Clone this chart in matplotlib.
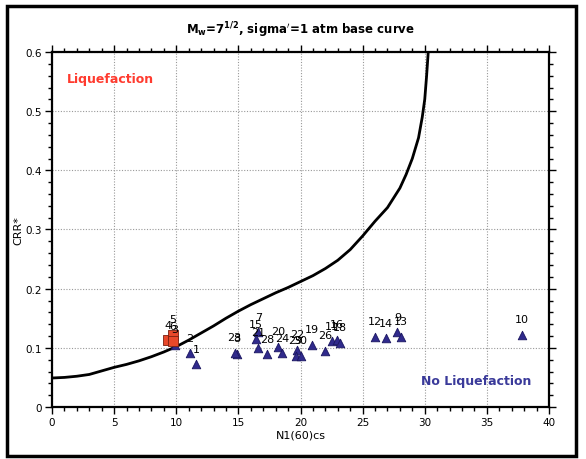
import matplotlib
matplotlib.use("Agg")
import matplotlib.pyplot as plt
from matplotlib.patches import Rectangle
from matplotlib.ticker import MultipleLocator, FuncFormatter

# Base curve
curve_n = [0, 1, 2, 3, 4, 5, 6, 7, 8, 9, 10, 11, 12, 13, 14, 15, 16, 17, 18, 19,
           20, 21, 22, 23, 24, 25, 26, 27, 28, 28.5, 29, 29.5, 29.8, 30.0, 30.15, 30.28]
curve_crr = [0.049, 0.050, 0.052, 0.055, 0.061, 0.067, 0.072, 0.078, 0.085, 0.093,
             0.102, 0.113, 0.125, 0.137, 0.150, 0.162, 0.173, 0.183, 0.193, 0.202,
             0.212, 0.222, 0.234, 0.248, 0.266, 0.289, 0.314, 0.337, 0.370, 0.393,
             0.420, 0.455, 0.490, 0.520, 0.560, 0.600]

# Triangle points
tri_labels = ["1", "2", "3", "8", "23", "7", "15", "21", "28", "20", "24", "22", "29",
              "30", "19", "26", "11", "16", "18", "12", "14", "9", "13", "10"]
tri_n = [11.6, 11.1, 9.9, 14.9, 14.7, 16.6, 16.4, 16.6, 17.3, 18.2, 18.5, 19.7, 19.6,
         20.0, 20.9, 22.0, 22.5, 22.9, 23.2, 26.0, 26.9, 27.8, 28.1, 37.8]
tri_crr = [0.072, 0.091, 0.105, 0.090, 0.092, 0.126, 0.115, 0.100, 0.089, 0.102, 0.091,
           0.097, 0.087, 0.087, 0.105, 0.095, 0.111, 0.114, 0.109, 0.119, 0.116, 0.126,
           0.119, 0.122]

# Square points
sq_labels = ["4", "5", "6"]
sq_n = [9.3, 9.7, 9.7]
sq_crr = [0.113, 0.122, 0.111]

fig = plt.figure(figsize=(5.86, 4.60), dpi=100)
ax = fig.add_axes([52/586, 1 - 408/460, (549-52)/586, (408-53)/460])

ax.plot(curve_n, curve_crr, color="black", lw=2.0, zorder=3, clip_on=True)
ax.scatter(tri_n, tri_crr, marker="^", s=38, c="#302a8c", edgecolors="#1a1660",
           linewidths=0.6, zorder=4)
ax.scatter(sq_n, sq_crr, marker="s", s=60, c="#e8482a", edgecolors="#7a2010",
           linewidths=0.6, zorder=5)

for lab, x, y in zip(tri_labels + sq_labels, tri_n + sq_n, tri_crr + sq_crr):
    ax.annotate(lab, (x, y), xytext=(0, 7.5), textcoords="offset points",
                ha="center", va="bottom", fontsize=8, color="black", zorder=6)

ax.set_xlim(0, 40)
ax.set_ylim(0, 0.6)
ax.xaxis.set_major_locator(MultipleLocator(5))
ax.xaxis.set_minor_locator(MultipleLocator(1))
ax.yaxis.set_major_locator(MultipleLocator(0.1))
ax.yaxis.set_minor_locator(MultipleLocator(0.02))
ax.yaxis.set_major_formatter(FuncFormatter(lambda v, p: "0" if abs(v) < 1e-9 else f"{v:.1f}"))
ax.tick_params(which="both", direction="out", top=True, right=True, labelsize=7.5,
               width=1.0, color="black", pad=2)
ax.tick_params(which="major", length=5)
ax.tick_params(which="minor", length=3)
ax.grid(True, which="major", color="#999999", linestyle=(0, (1, 1.5)), lw=0.8)
for s in ax.spines.values():
    s.set_linewidth(1.6)

ax.set_xlabel("N1(60)cs", fontsize=8, labelpad=2)
ax.set_ylabel("CRR*", fontsize=8, labelpad=2)

ax.text(1.2, 0.555, "Liquefaction", color="#ff3b2f", fontsize=9, fontweight="bold",
        ha="left", va="center")
ax.text(38.6, 0.045, "No Liquefaction", color="#3a3a9a", fontsize=9, fontweight="bold",
        ha="right", va="center")

fig.text(300/586, 1 - 30/460,
         r"M$_\mathbf{w}$=7$^{\mathbf{1/2}}$, sigma$'$=1 atm base curve",
         ha="center", va="center", fontsize=8.5, fontweight="bold")

fig.patches.append(Rectangle((7/586, 3/460), (576-7)/586, (453-3)/460,
                             transform=fig.transFigure, fill=False,
                             edgecolor="black", linewidth=2.5))

fig.savefig("out.png", dpi=100)
